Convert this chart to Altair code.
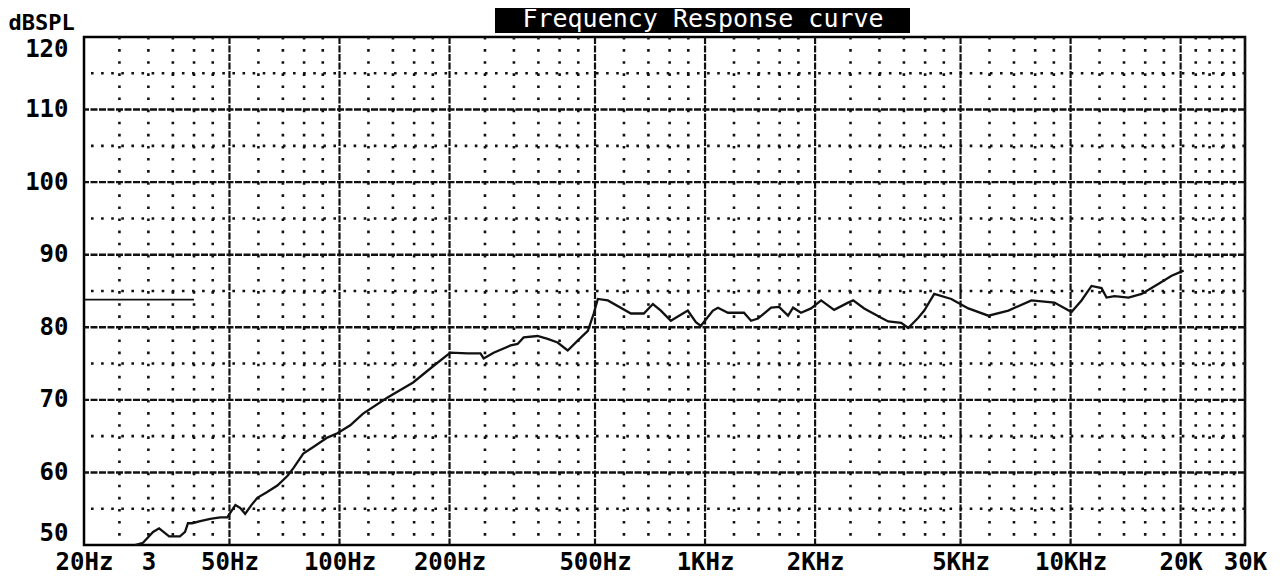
import altair as alt
import pandas as pd

# ---- data ----
freq_hz = [27.6, 29.0, 30.9, 32.1, 34.2, 36.6, 37.8, 38.5, 39.5, 41.6, 44.3, 47.2, 49.3,
           51.9, 53.5, 55.2, 57.4, 59.6, 63.4, 67.6, 72.0, 74.8, 79.6, 84.8, 92.6, 98.7,
           107, 116, 135, 159, 181, 201, 224, 243, 248, 264, 294, 307, 319, 348, 371,
           395, 421, 449, 478, 496, 509, 542, 627, 680, 720, 757, 806, 897, 944, 974,
           1051, 1085, 1155, 1278, 1336, 1396, 1516, 1594, 1687, 1741, 1830, 1950, 2077,
           2255, 2462, 2542, 2725, 3032, 3170, 3441, 3596, 3831, 3978, 4236, 4717, 5252,
           5957, 6760, 7814, 9032, 10056, 10711, 11410, 12152, 12542, 13190, 14404,
           15644, 17412, 18898, 20380]
spl_db = [50.0, 50.3, 51.8, 52.3, 51.2, 51.2, 51.8, 53.0, 53.0, 53.3, 53.6, 53.8, 53.8,
          55.5, 55.1, 54.3, 55.5, 56.5, 57.3, 58.2, 59.5, 60.6, 62.6, 63.5, 64.8, 65.4,
          66.5, 68.1, 70.3, 72.4, 74.7, 76.5, 76.4, 76.4, 75.7, 76.5, 77.5, 77.7, 78.6,
          78.8, 78.4, 77.9, 76.8, 78.2, 79.5, 81.9, 83.9, 83.7, 81.9, 81.9, 83.2, 82.3,
          80.9, 82.3, 80.7, 80.2, 82.3, 82.7, 82.0, 82.0, 80.9, 81.2, 82.7, 82.8, 81.6,
          82.7, 82.0, 82.6, 83.7, 82.4, 83.4, 83.7, 82.6, 81.3, 80.8, 80.6, 79.9, 81.3,
          82.3, 84.6, 83.9, 82.6, 81.6, 82.3, 83.7, 83.4, 82.1, 83.7, 85.7, 85.4, 84.1,
          84.3, 84.1, 84.6, 86.0, 87.1, 87.8]

x_tick_values = [20, 30, 50, 100, 200, 500, 1000, 2000, 5000, 10000, 20000, 30000]
x_tick_labels = ["20Hz", "3", "50Hz", "100Hz", "200Hz", "500Hz", "1KHz", "2KHz",
                 "5KHz", "10KHz", "20K", "30K"]
y_tick_values = [50, 60, 70, 80, 90, 100, 110, 120]

major_freqs = [50, 100, 200, 500, 1000, 2000, 5000, 10000, 20000, 30000]
minor_freqs = [25, 30, 35, 40, 45, 60, 70, 80, 90, 120, 140, 160, 180,
               250, 300, 350, 400, 450, 600, 700, 800, 900, 1200, 1400, 1600, 1800,
               2500, 3000, 3500, 4000, 4500, 6000, 7000, 8000, 9000,
               12000, 14000, 16000, 18000, 22000, 24000, 26000, 28000]
major_db = [60, 70, 80, 90, 100, 110]
minor_db = [55, 65, 75, 85, 95, 105, 115]

ref_line_from = [20]
ref_line_to = [40]
ref_line_db = [83.8]

title_text = ["Frequency Response curve"]
y_title = "dBSPL"

# ---- chart ----
FONT = "DejaVu Sans Mono"

label_expr = ""
for v, lab in zip(x_tick_values, x_tick_labels):
    label_expr += f"datum.value == {v} ? '{lab}' : "
label_expr += "''"

xscale = alt.Scale(type="log", domain=[20, 30000], nice=False)
yscale = alt.Scale(domain=[50, 120], nice=False, zero=False)

xaxis = alt.Axis(values=x_tick_values, labelExpr=label_expr, grid=False, ticks=False,
                 domain=False, title=None, labelFont=FONT, labelFontWeight="bold",
                 labelFontSize=24, labelColor="black", labelPadding=5,
                 labelAngle=0, labelOverlap=False, labelFlush=False)
yaxis = alt.Axis(values=y_tick_values, format="d", grid=False, ticks=False, domain=False,
                 title=y_title, titleAngle=0, titleX=-76, titleY=-8, titleAlign="left",
                 titleBaseline="alphabetic", titleFont=FONT, titleFontSize=22,
                 titleFontWeight="bold", titleColor="black",
                 labelFont=FONT, labelFontWeight="bold", labelFontSize=24,
                 labelColor="black", labelPadding=16, labelFlush=True,
                 labelOverlap=False)

X = alt.X("freq:Q", scale=xscale, axis=xaxis)
Y = alt.Y("db:Q", scale=yscale, axis=yaxis)

curve_df = pd.DataFrame({"freq": freq_hz, "db": spl_db})
minor_f_df = pd.DataFrame({"freq": minor_freqs})
major_f_df = pd.DataFrame({"freq": major_freqs})
minor_db_df = pd.DataFrame({"db": minor_db})
major_db_df = pd.DataFrame({"db": major_db})
ref_df = pd.DataFrame({"freq": ref_line_from, "freq2": ref_line_to, "db": ref_line_db})
title_df = pd.DataFrame({"t": title_text})

minor_v = alt.Chart(minor_f_df).mark_rule(color="#111", strokeWidth=2.6,
                                          strokeDash=[2.6, 9.5]).encode(x=X)
minor_h = alt.Chart(minor_db_df).mark_rule(color="#111", strokeWidth=2.6,
                                           strokeDash=[2.6, 7.5]).encode(y=Y)
major_v = alt.Chart(major_f_df).mark_rule(color="#111", strokeWidth=2.2,
                                          strokeDash=[7, 1.5]).encode(x=X)
major_h = alt.Chart(major_db_df).mark_rule(color="#111", strokeWidth=2.4,
                                           strokeDash=[7, 1.5]).encode(y=Y)
ref = alt.Chart(ref_df).mark_rule(color="#111", strokeWidth=1.8).encode(
    x=X, x2="freq2:Q", y=Y)
curve = alt.Chart(curve_df).mark_line(color="#111", strokeWidth=2.3).encode(x=X, y=Y)

title_box = alt.Chart(title_df).mark_rect(color="black").encode(
    x=alt.value(411), x2=alt.value(826), y=alt.value(-34), y2=alt.value(-4))
title_txt = alt.Chart(title_df).mark_text(color="white", font=FONT, fontSize=25,
                                          baseline="middle", align="center").encode(
    x=alt.value(619), y=alt.value(-18), text="t:N")

chart = alt.layer(minor_v, minor_h, major_v, major_h, ref, curve, title_box, title_txt
                  ).properties(
    width=1161, height=508,
    autosize=alt.AutoSizeParams(type="none"),
    padding={"left": 76, "top": 29, "right": 25, "bottom": 30},
    background="white",
).configure_view(stroke="black", strokeWidth=2.5)

chart.save("out.html", embed_options={"renderer": "svg", "actions": False})
